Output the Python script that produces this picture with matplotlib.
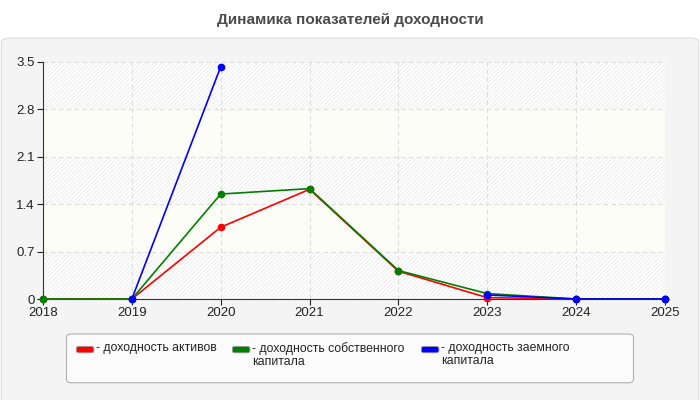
import numpy as np
import matplotlib.pyplot as plt
from matplotlib.patches import FancyBboxPatch

plt.rcParams["font.family"] = ["Liberation Sans", "DejaVu Sans"]
plt.rcParams["hatch.linewidth"] = 0.6

years = [2018, 2019, 2020, 2021, 2022, 2023, 2024, 2025]
assets = [0, 0, 1.06, 1.62, 0.41, 0.02, 0, 0]
equity = [0, 0, 1.55, 1.63, 0.42, 0.08, 0, 0]
borrowed = [np.nan, 0, 3.43, np.nan, np.nan, 0.06, 0, 0]
yticks = [0, 0.7, 1.4, 2.1, 2.8, 3.5]

labels = ["- доходность активов",
          "- доходность собственного\nкапитала",
          "- доходность заемного\nкапитала"]
colors = ["#ff0000", "#008000", "#0000ff"]

fig = plt.figure(figsize=(7, 4), dpi=100)
fig.patch.set_facecolor("white")
fig.patches.append(FancyBboxPatch((0.002, -0.05), 0.996, 0.955, boxstyle="round,pad=0,rounding_size=0.012",
                                  transform=fig.transFigure, facecolor="#f4f4f4", edgecolor="#dddddd",
                                  linewidth=0.8, zorder=-10))
fig.text(0.5, 0.95, "Динамика показателей доходности", ha="center", va="center",
         fontsize=11, fontweight="bold", color="#4a4a4a")

ax = fig.add_axes([0.0614, 0.2525, 0.8886, 0.5925])
ax.set_facecolor("white")
for i in range(len(yticks) - 1):
    if i % 2 == 0:
        ax.axhspan(yticks[i], yticks[i + 1], facecolor="white", edgecolor="#ebebeb",
                   hatch="////////", linewidth=0, zorder=0)
    else:
        ax.axhspan(yticks[i], yticks[i + 1], facecolor="#fdfdf7", linewidth=0, zorder=0)

for series, c in zip([assets, equity, borrowed], colors):
    ax.plot(years, series, color=c, linewidth=1.2, marker="o", markersize=4.5, clip_on=False, zorder=3)

ax.set_xlim(2018, 2025)
ax.set_ylim(0, 3.5)
ax.set_xticks(years)
ax.set_yticks(yticks)
ax.set_yticklabels(["0", "0.7", "1.4", "2.1", "2.8", "3.5"])
ax.grid(True, color="#dddddd", linestyle=(0, (4, 3)), linewidth=0.8, zorder=1)
ax.set_axisbelow(True)
for s in ["top", "right"]:
    ax.spines[s].set_visible(False)
for s in ["left", "bottom"]:
    ax.spines[s].set_color("#333333")
    ax.spines[s].set_linewidth(0.8)
ax.tick_params(labelsize=9.5, colors="#222222", length=4, width=0.8, pad=2)

# legend box
fig.patches.append(FancyBboxPatch((0.095, 0.043), 0.81, 0.122, boxstyle="round,pad=0,rounding_size=0.008",
                                  transform=fig.transFigure, facecolor="#fbfbfb", edgecolor="#b0b0b0",
                                  linewidth=0.8))
xs = [0.109, 0.332, 0.602]
for x, c, lab in zip(xs, colors, labels):
    fig.patches.append(FancyBboxPatch((x, 0.118), 0.025, 0.016, boxstyle="round,pad=0,rounding_size=0.004",
                                      transform=fig.transFigure, facecolor=c, edgecolor="#999999",
                                      linewidth=0.6))
    fig.text(x + 0.028, 0.145, lab, ha="left", va="top", fontsize=8.8, color="#222222", linespacing=1.1)

fig.savefig("out.png", dpi=100)
